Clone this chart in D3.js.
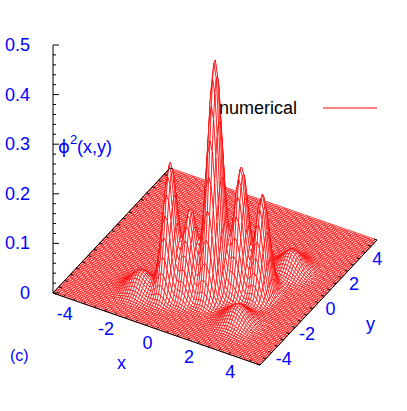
<!DOCTYPE html>
<html><head><meta charset="utf-8">
<script src="https://cdnjs.cloudflare.com/ajax/libs/d3/7.8.5/d3.min.js"></script>
<style>body{margin:0;background:#fff}text{font-family:"Liberation Sans",Arial,sans-serif}</style>
</head><body><svg id="c" width="407" height="411"></svg>
<script>
// peaks: centre, height, spread
const peakX = [0.9, -0.76, 1.8, 2.66, 0.04, -1.9, 2.9, 2.7];
const peakY = [-1.6, -2.48, -0.93, -0.67, -2.18, -3.0, 1.4, -2.9];
const peakH = [0.47, 0.26, 0.25, 0.2, 0.17, 0.04, 0.04, 0.035];
const peakSx = [0.27, 0.26, 0.26, 0.24, 0.24, 0.45, 0.45, 0.45];
const peakSy = [0.45, 0.42, 0.42, 0.42, 0.42, 0.5, 0.5, 0.5];
const zTicks = [0, 0.1, 0.2, 0.3, 0.4, 0.5];
const xyTicks = [-4, -2, 0, 2, 4];
const N = 90;

const svg = d3.select("#c");
const F = [260, 365], L = [53, 293], R = [377, 240];
const z = d3.scaleLinear().domain([0, 0.5]).range([0, 248]);
const a = d3.scaleLinear().domain([5, -5]).range([0, 1]); // x
const b = d3.scaleLinear().domain([-5, 5]).range([0, 1]); // y
function P(x, y, h) {
  const u = a(x), v = b(y);
  return [F[0] + u * (L[0] - F[0]) + v * (R[0] - F[0]),
          F[1] + u * (L[1] - F[1]) + v * (R[1] - F[1]) - z(h)];
}
function f(x, y) {
  let s = 0;
  for (let i = 0; i < peakX.length; i++)
    s += peakH[i] * Math.exp(-((x - peakX[i]) ** 2) / (2 * peakSx[i] ** 2) - ((y - peakY[i]) ** 2) / (2 * peakSy[i] ** 2));
  return s;
}
const g = d3.scaleLinear().domain([0, N]).range([-5, 5]);
const quads = [];
for (let i = 0; i < N; i++) for (let j = 0; j < N; j++) {
  const x0 = g(i), x1 = g(i + 1), y0 = g(j), y1 = g(j + 1);
  quads.push({d: -(x0 + x1) + (y0 + y1),
    pts: [P(x0, y0, f(x0, y0)), P(x1, y0, f(x1, y0)), P(x1, y1, f(x1, y1)), P(x0, y1, f(x0, y1))]});
}
quads.sort((p, q) => q.d - p.d);
svg.append("g").selectAll("path").data(quads).join("path")
  .attr("d", q => "M" + q.pts.map(p => p.join(",")).join("L") + "Z")
  .attr("fill", "#fff").attr("stroke", "#f00").attr("stroke-width", 0.7);

// base border with ticks
const bd = svg.append("g").attr("stroke", "#000").attr("stroke-width", 1).attr("fill", "none");
bd.append("path").attr("d", "M" + [P(-5, 5, 0), P(-5, -5, 0), P(5, -5, 0), P(5, 5, 0)].map(p => p.join(",")).join("L"));
const minor = d3.range(-5, 5.01, 0.5);
minor.forEach(t => {
  const p = P(t, -5, 0), q = P(t, -4.85, 0); bd.append("line").attr("x1", p[0]).attr("y1", p[1]).attr("x2", q[0]).attr("y2", q[1]);
  const p2 = P(5, t, 0), q2 = P(4.85, t, 0); bd.append("line").attr("x1", p2[0]).attr("y1", p2[1]).attr("x2", q2[0]).attr("y2", q2[1]);
  const p3 = P(-5, t, 0), q3 = P(-4.85, t, 0); bd.append("line").attr("x1", p3[0]).attr("y1", p3[1]).attr("x2", q3[0]).attr("y2", q3[1]);
});
const blue = "#00f";
xyTicks.forEach(t => {
  const p = P(t, -5, 0);
  svg.append("text").attr("x", p[0] - 9).attr("y", p[1] + 20).attr("text-anchor", "middle").attr("fill", blue).attr("font-size", 18).text(t);
  const q = P(5, t, 0);
  svg.append("text").attr("x", q[0] + 12).attr("y", q[1] + 12).attr("text-anchor", "middle").attr("fill", blue).attr("font-size", 18).text(t);
});

// z axis
const zx = L[0];
const za = svg.append("g").attr("stroke", "#000");
za.append("line").attr("x1", zx).attr("x2", zx).attr("y1", L[1]).attr("y2", L[1] - z(0.5));
d3.range(0, 0.501, 0.02).forEach((t, i) => {
  const y = L[1] - z(t);
  za.append("line").attr("x1", zx).attr("x2", zx + (i % 5 === 0 ? 6 : 3)).attr("y1", y).attr("y2", y);
});
zTicks.forEach(t => svg.append("text").attr("x", 30).attr("y", L[1] - z(t) + 6)
  .attr("text-anchor", "end").attr("fill", blue).attr("font-size", 18).text(t));

const lab = svg.append("text").attr("x", 58).attr("y", 153).attr("fill", blue).attr("font-size", 18);
lab.append("tspan").attr("font-family", "DejaVu Sans").text("ϕ");
lab.append("tspan").attr("dy", -9).attr("font-size", 13).text("2");
lab.append("tspan").attr("dy", 9).text("(x,y)");
svg.append("text").attr("x", 117).attr("y", 369).attr("fill", blue).attr("font-size", 18).text("x");
svg.append("text").attr("x", 366).attr("y", 330).attr("fill", blue).attr("font-size", 18).text("y");
svg.append("text").attr("x", 10).attr("y", 361).attr("fill", blue).attr("font-size", 16).text("(c)");
svg.append("text").attr("x", 219).attr("y", 114).attr("fill", "#000").attr("font-size", 18).text("numerical");
svg.append("line").attr("x1", 323).attr("x2", 377).attr("y1", 108).attr("y2", 108).attr("stroke", "#f00");
</script></body></html>
